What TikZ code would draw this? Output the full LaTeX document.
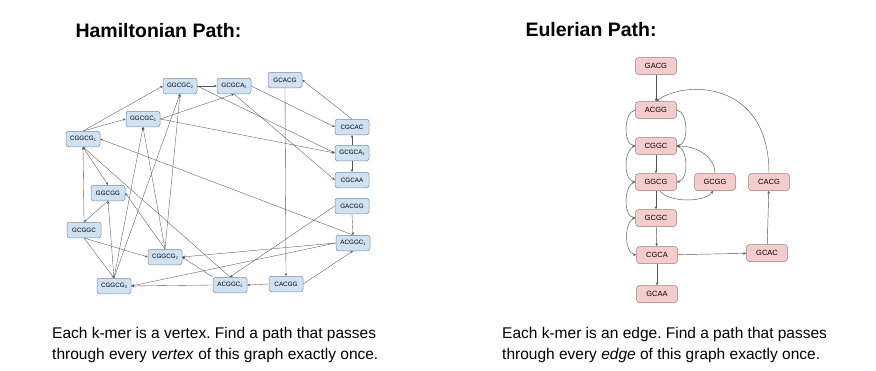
\documentclass[tikz,border=0pt]{standalone}
\usepackage{fontspec}
\setmainfont{Liberation Sans}
\usetikzlibrary{arrows.meta}
\definecolor{hfill}{HTML}{CFE2F3}
\definecolor{hdraw}{HTML}{7D8C9C}
\definecolor{efill}{HTML}{F4CCCC}
\definecolor{edraw}{HTML}{9C7F7F}
\definecolor{lnc}{HTML}{555555}
\newcommand\sbs[1]{\raisebox{-0.45ex}{\fontsize{3.8}{4}\selectfont #1}}
\frenchspacing
\begin{document}
\begin{tikzpicture}[x=1pt,y=-1pt,
 hnode/.style={draw=hdraw,fill=hfill,rounded corners=2.5pt,minimum width=34pt,minimum height=15.5pt,inner sep=0pt,font=\fontsize{6.3}{7}\selectfont,line width=0.5pt},
 enode/.style={draw=edraw,fill=efill,rounded corners=3pt,minimum width=41pt,minimum height=17pt,inner sep=0pt,font=\fontsize{7.5}{8}\selectfont,line width=0.5pt},
 harr/.style={draw=lnc,line width=0.35pt,-{Stealth[length=2.8pt,width=2.4pt]}},
 earr/.style={draw=lnc,line width=0.45pt,-{Stealth[length=3pt,width=2.6pt]}},
 title/.style={anchor=base west,inner sep=0pt,font=\fontsize{19.5}{22}\selectfont\bfseries},
 desc/.style={anchor=base west,inner sep=0pt,font=\fontsize{15.5}{21}\selectfont}
]
\useasboundingbox (0,0) rectangle (876,370);

% titles and descriptions
\node[title] (t1) at (75.3,37.5) {Hamiltonian Path:};
\node[title] (t2) at (525.3,36) {Eulerian Path:};
\node[desc] (d1) at (52,338.7) {Each k-mer is a vertex. Find a path that passes};
\node[desc] (d2) at (52,359.7) {through every \textit{vertex} of this graph exactly once.};
\node[desc] (d3) at (502,338.7) {Each k-mer is an edge. Find a path that passes};
\node[desc] (d4) at (502,359.7) {through every \textit{edge} of this graph exactly once.};

% Hamiltonian graph nodes
\node[hnode] (GGCGC2) at (180,86) {GGCGC\sbs{2}};
\node[hnode] (GCGCA2) at (234,86) {GCGCA\sbs{2}};
\node[hnode] (GCACG) at (285,80) {GCACG};
\node[hnode] (GGCGC1) at (143,119) {GGCGC\sbs{1}};
\node[hnode] (CGGCG1) at (83,139) {CGGCG\sbs{1}};
\node[hnode] (CGCAC) at (352,127) {CGCAC};
\node[hnode] (GCGCA1) at (352,153) {GCGCA\sbs{1}};
\node[hnode] (CGCAA) at (352,180) {CGCAA};
\node[hnode] (GACGG) at (352,206) {GACGG};
\node[hnode] (ACGGC1) at (353,243) {ACGGC\sbs{1}};
\node[hnode] (CACGG) at (286,284) {CACGG};
\node[hnode] (ACGGC2) at (230,285) {ACGGC\sbs{2}};
\node[hnode] (GGCGG) at (108,193) {GGCGG};
\node[hnode] (GCGGC) at (84,230) {GCGGC};
\node[hnode] (CGGCG2) at (165,257) {CGGCG\sbs{2}};
\node[hnode] (CGGCG3) at (114,286) {CGGCG\sbs{3}};

% Hamiltonian graph edges
\draw[harr] (GACGG.south) -- (ACGGC1.north);
\draw[harr] (GACGG.west) -- (ACGGC2.north);
\draw[harr] (ACGGC1.north) -- (CGGCG1.east);
\draw[harr] (ACGGC1.west) -- (CGGCG2.east);
\draw[harr] (ACGGC1.west) -- (CGGCG3.east);
\draw[harr] (ACGGC2.north) -- (CGGCG1.south);
\draw[harr] (ACGGC2.north west) -- (CGGCG2.east);
\draw[harr] (ACGGC2.west) -- (CGGCG3.east);
\draw[harr] (CACGG.west) -- (ACGGC2.east);
\draw[harr] (CACGG.east) -- (ACGGC1.south);
\draw[harr] (GCACG.south) -- (CACGG.north);
\draw[harr] (CGCAC.north) -- (GCACG.east);
\draw[harr] (GCGCA1.north) -- (CGCAC.south);
\draw[harr] (GCGCA1.south) -- (CGCAA.north);
\draw[harr] (GCGCA2.east) -- (CGCAC.west);
\draw[harr] (GCGCA2.south) -- (CGCAA.west);
\draw[harr] (GGCGC2.east) -- (GCGCA2.west);
\draw[harr] (GGCGC2.east) -- (GCGCA1.west);
\draw[harr] (GGCGC1.east) -- (GCGCA2.south);
\draw[harr] (GGCGC1.east) -- (GCGCA1.west);
\draw[harr] (CGGCG1.north) -- (GGCGC2.west);
\draw[harr] (CGGCG1.north) -- (GGCGC1.west);
\draw[harr] (CGGCG1.south) -- (GGCGG.north);
\draw[harr] (CGGCG2.north) -- (GGCGC1.south);
\draw[harr] (CGGCG2.north) -- (GGCGC2.south);
\draw[harr] (CGGCG2.north) -- (GGCGG.east);
\draw[harr] (CGGCG3.north) -- (GGCGC1.south);
\draw[harr] (CGGCG3.north) -- (GGCGC2.south);
\draw[harr] (CGGCG3.north) -- (GGCGG.south);
\draw[harr] (GGCGG.south) -- (GCGGC.north);
\draw[harr] (GCGGC.north) -- (CGGCG1.south);
\draw[harr] (GCGGC.south) -- (CGGCG2.west);
\draw[harr] (GCGGC.south) -- (CGGCG3.north);

% Eulerian graph nodes
\node[enode] (GACG) at (656,66) {GACG};
\node[enode] (ACGG) at (656,110) {ACGG};
\node[enode] (CGGC) at (656,146) {CGGC};
\node[enode] (GGCG) at (656,182) {GGCG};
\node[enode] (GCGG) at (715,182) {GCGG};
\node[enode] (CACG) at (769,182) {CACG};
\node[enode] (GCGC) at (656,218) {GCGC};
\node[enode] (CGCA) at (657,255) {CGCA};
\node[enode] (GCAC) at (767,253) {GCAC};
\node[enode] (GCAA) at (657,294) {GCAA};

% Eulerian graph edges
\draw[earr] (GACG) -- (ACGG);
\draw[earr] (ACGG.west) .. controls +(-12,2) and +(-12,-2) .. (CGGC.west);
\draw[earr] (ACGG.east) .. controls +(12,2) and +(12,-2) .. (CGGC.east);
\draw[earr] (CGGC) -- (GGCG);
\draw[earr] (CGGC.west) .. controls +(-12,2) and +(-12,-2) .. (GGCG.west);
\draw[earr] (CGGC.east) .. controls +(12,2) and +(12,-2) .. (GGCG.east);
\draw[earr] (GGCG) -- (GCGC);
\draw[earr] (GGCG.west) .. controls +(-12,2) and +(-12,-2) .. (GCGC.west);
\draw[earr] (GCGC) -- (CGCA);
\draw[earr] (GCGC.west) .. controls +(-12,2) and +(-12,-2) .. (CGCA.west);
\draw[earr] (CGCA) -- (GCAA);
\draw[earr] (CGCA) -- (GCAC);
\draw[earr] (GCAC) -- (CACG);
\draw[earr] ([xshift=4pt]GGCG.south) .. controls +(8,12) and +(-8,12) .. ([xshift=-2pt]GCGG.south);
\draw[earr] (GCGG.north) .. controls +(0,-15) and +(22,0) .. (CGGC.east);
\draw[earr] (CACG.north) .. controls (769,80) and (685,80) .. (ACGG.north);
\end{tikzpicture}
\end{document}
